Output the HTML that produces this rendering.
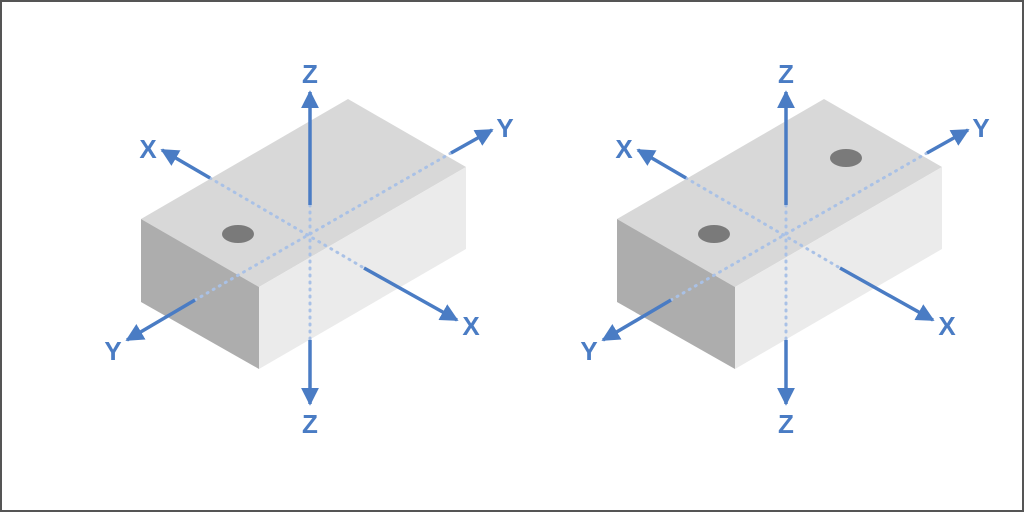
<!DOCTYPE html>
<html><head><style>
html,body{margin:0;padding:0;background:#fff}
svg{display:block}
text{font-family:"Liberation Sans",sans-serif;font-weight:bold;font-size:26px;fill:#4a7cc4;text-anchor:middle}
</style></head><body>
<svg width="1024" height="512" viewBox="0 0 1024 512">
<defs>
<marker id="ah" viewBox="0 0 10 10" refX="9" refY="5" markerWidth="18" markerHeight="18" orient="auto" markerUnits="userSpaceOnUse"><path d="M0,0 L10,5 L0,10 z" fill="#4a7cc4"/></marker>
<g id="d">
<polygon points="141,219 348,99 466,167 259,287" fill="#d8d8d8"/>
<polygon points="141,219 259,287 259,369 141,302" fill="#adadad"/>
<polygon points="259,287 466,167 466,249 259,369" fill="#ebebeb"/>
<g stroke="#a9c1e6" stroke-width="3" stroke-dasharray="1 6" stroke-linecap="round" fill="none">
<line x1="210" y1="178" x2="364" y2="268"/>
<line x1="195" y1="300" x2="451" y2="153"/>
<line x1="310" y1="205" x2="310" y2="340"/>
</g>
<g stroke="#4a7cc4" stroke-width="3.5" fill="none" marker-end="url(#ah)">
<line x1="310" y1="205" x2="310" y2="92"/>
<line x1="310" y1="340" x2="310" y2="404"/>
<line x1="210" y1="178" x2="162" y2="150"/>
<line x1="364" y1="268" x2="457" y2="320"/>
<line x1="451" y1="153" x2="492" y2="130"/>
<line x1="195" y1="300" x2="127" y2="340"/>
</g>
<text x="310" y="83">Z</text>
<text x="310" y="433">Z</text>
<text x="148" y="158">X</text>
<text x="471" y="335">X</text>
<text x="505" y="137">Y</text>
<text x="113" y="360">Y</text>
</g>
</defs>
<rect x="1" y="1" width="1022" height="510" fill="#fff" stroke="#555" stroke-width="2"/>
<use href="#d"/>
<ellipse cx="238" cy="234" rx="16" ry="9" fill="#7a7a7a"/>
<use href="#d" transform="translate(476,0)"/>
<ellipse cx="714" cy="234" rx="16" ry="9" fill="#7a7a7a"/>
<ellipse cx="846" cy="158" rx="16" ry="9" fill="#7a7a7a"/>
</svg>
</body></html>
